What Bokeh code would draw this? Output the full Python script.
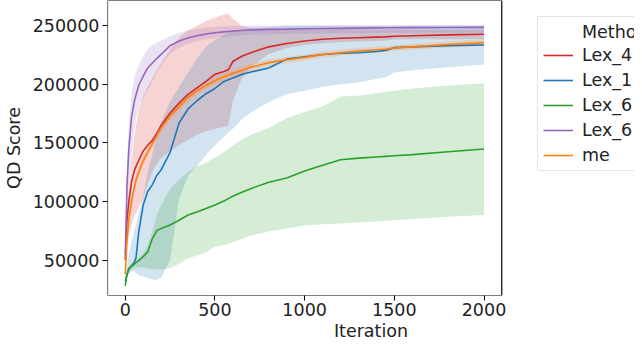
from bokeh.plotting import figure
from bokeh.models import Range1d, FixedTicker, Legend, LegendItem, BoxAnnotation
from bokeh.embed import file_html
from bokeh.resources import INLINE

# ---- data ----
iteration = [0, 10, 20, 35, 50, 60, 75, 100, 125, 150, 175, 200, 250, 300, 350, 400, 450, 500,
             550, 575, 600, 650, 700, 800, 900, 1000, 1100, 1200, 1300, 1400, 1450, 1500, 1600, 1800, 2000]

lex4_mean = [50000, 85000, 100000, 117000, 126000, 130000, 135000, 143000, 148000, 152000, 158000, 165000,
             175500, 184000, 191500, 197000, 202500, 208500, 211000, 212500, 219500, 224000, 227000, 232000,
             234800, 237000, 238500, 239300, 239800, 240300, 240500, 241000, 241500, 242200, 242800]
lex4_lo = [45000, 60000, 70000, 80000, 87000, 90000, 95000, 103000, 115000, 125000, 132000, 137000,
           143000, 148000, 153000, 157000, 160000, 162000, 163500, 165000, 186000, 205000, 215000, 226000,
           231000, 233500, 235000, 236000, 236500, 237000, 237500, 238000, 238500, 238500, 238500]
lex4_hi = [55000, 85000, 105000, 135000, 155000, 165000, 178000, 190000, 198000, 205000, 212000, 218000,
           230000, 240000, 246000, 250000, 254000, 257000, 259500, 260500, 256000, 250000, 248000, 247000,
           247000, 247000, 247000, 247000, 246800, 246800, 246700, 246700, 246600, 246500, 246500]

lex1_mean = [32000, 38000, 42000, 45000, 48000, 52000, 74000, 97000, 108500, 114000, 122000, 127000,
             142000, 167000, 179000, 186000, 192000, 196500, 202500, 204000, 205500, 208500, 210500, 214000,
             221500, 223500, 225500, 226500, 227000, 228000, 229000, 231300, 232000, 233000, 233600]
lex1_lo = [31000, 35000, 38000, 40000, 41000, 39000, 37000, 36000, 35000, 33500, 33000, 35000,
           50000, 102000, 122000, 130000, 140000, 148000, 155000, 159000, 162000, 170000, 176000, 185000,
           191500, 194500, 198000, 200000, 201500, 204500, 206000, 210000, 212000, 214500, 217000]
lex1_hi = [34000, 45000, 55000, 65000, 75000, 80000, 90000, 105000, 125000, 140000, 155000, 168000,
           185000, 198000, 210000, 222000, 232000, 238000, 242000, 244000, 245000, 247000, 248000, 249000,
           250000, 250000, 250000, 250000, 250000, 250000, 250000, 250000, 250000, 250000, 250000]

lex6a_mean = [28000, 38000, 43000, 45000, 46500, 48000, 49500, 53000, 57000, 68000, 75000, 77000,
              80000, 84000, 88500, 91000, 94000, 97000, 100500, 102500, 104500, 108000, 111000, 116500,
              120000, 126000, 131000, 135700, 137000, 138000, 138500, 139000, 140000, 142500, 144800]
lex6a_lo = [27000, 36000, 40000, 42000, 43500, 44000, 44000, 43500, 43000, 42500, 42000, 42000,
            43000, 47000, 51500, 54000, 56500, 61500, 63000, 64000, 65500, 68000, 71000, 74500,
            77000, 79500, 80500, 81200, 82000, 83000, 83500, 84000, 85000, 87000, 88600]
lex6a_hi = [30000, 40000, 44000, 47000, 49000, 50000, 52000, 56000, 62000, 74000, 88000, 97000,
            111000, 118500, 125000, 130000, 133000, 137500, 142000, 145000, 148000, 153000, 157000, 163000,
            171000, 176500, 181000, 189500, 190500, 192500, 193500, 194500, 196500, 199000, 201000]

lex6b_mean = [55000, 115000, 145000, 172000, 185000, 191000, 199000, 207000, 214000, 218000, 222000, 225500,
              233000, 237000, 239500, 241500, 243000, 244000, 244800, 245100, 245400, 246000, 246400, 246900,
              247100, 247400, 247600, 247800, 248000, 248200, 248300, 248300, 248400, 248500, 248600]
lex6b_lo = [50000, 80000, 105000, 140000, 160000, 170000, 180000, 188000, 195000, 202000, 210000, 216000,
            226000, 231500, 234500, 237000, 238500, 239500, 240500, 241000, 241300, 241800, 242300, 242800,
            243000, 243200, 243400, 243600, 243700, 243800, 243900, 244000, 244000, 244100, 244200]
lex6b_hi = [60000, 135000, 165000, 192000, 205000, 210000, 216000, 224000, 230000, 233500, 235500, 237500,
            241000, 244000, 246000, 247500, 248500, 249200, 249600, 249800, 250000, 250100, 250200, 250300,
            250300, 250400, 250400, 250500, 250500, 250500, 250500, 250600, 250600, 250600, 250600]

me_mean = [38000, 68000, 85000, 100000, 112000, 118000, 125000, 135000, 142000, 149000, 156000, 163000,
           173000, 181000, 189000, 194500, 199000, 203000, 206500, 208000, 209500, 212000, 214500, 218500,
           221000, 223000, 225500, 227000, 228500, 229500, 230000, 231000, 232000, 234000, 235600]
me_lo = [36000, 64000, 81000, 96500, 108500, 114500, 121500, 131500, 138500, 145500, 152500, 159500,
         169500, 177500, 185500, 191500, 196000, 200000, 203500, 205000, 206500, 209000, 211500, 215500,
         218500, 220500, 223000, 224500, 226000, 227000, 227500, 228500, 229500, 231500, 233000]
me_hi = [40000, 72000, 89000, 103500, 115500, 121500, 128500, 138500, 145500, 152500, 159500, 166500,
         176500, 184500, 192500, 197500, 202000, 206000, 209500, 211000, 212500, 215000, 217500, 221500,
         223500, 225500, 228000, 229500, 231000, 232000, 232500, 233500, 234500, 236500, 238200]

method_names = ["Lex_4", "Lex_1", "Lex_6", "Lex_6", "me"]
method_colors = ["#d62728", "#1f77b4", "#2ca02c", "#9467bd", "#ff7f0e"]
legend_title = "Methods"
x_ticks = [0, 500, 1000, 1500, 2000]
y_ticks = [50000, 100000, 150000, 200000, 250000]

series = [
    (lex4_mean, lex4_lo, lex4_hi),
    (lex1_mean, lex1_lo, lex1_hi),
    (lex6a_mean, lex6a_lo, lex6a_hi),
    (lex6b_mean, lex6b_lo, lex6b_hi),
    (me_mean, me_lo, me_hi),
]

FONT = "DejaVu Sans"
FS = "17.5px"

# axes box limits (data units); the frame itself extends to the window edge so the
# legend on the right can be drawn (and cut by the window like the reference)
X_LO, X_HI = -99, 2099
Y_LO, Y_HI = 19800, 271550
FRAME_W = 536      # frame width in px (from axes left to window edge)
AXES_PX = 401      # axes box width in px
x_end = X_LO + (X_HI - X_LO) * FRAME_W / AXES_PX

p = figure(width=634, height=343, output_backend="svg", toolbar_location=None,
           x_range=Range1d(X_LO, x_end), y_range=Range1d(Y_LO, Y_HI),
           min_border_left=98, min_border_right=0, min_border_top=0, min_border_bottom=36)

p.xgrid.visible = False
p.ygrid.visible = False
p.outline_line_color = None
p.background_fill_color = "white"
p.border_fill_color = "white"

for ax in (p.xaxis[0], p.yaxis[0]):
    ax.major_label_text_font = FONT
    ax.major_label_text_font_size = FS
    ax.major_label_text_color = "#222222"
    ax.axis_label_text_font = FONT
    ax.axis_label_text_font_size = FS
    ax.axis_label_text_font_style = "normal"
    ax.axis_label_text_color = "#222222"
    ax.axis_line_color = None
    ax.major_tick_out = 5
    ax.major_tick_in = 0
    ax.minor_tick_out = 0
    ax.minor_tick_in = 0
    ax.major_tick_line_color = "black"

p.xaxis[0].major_label_text_line_height = 0.8
p.xaxis[0].axis_label_text_line_height = 0.8
p.xaxis[0].ticker = FixedTicker(ticks=x_ticks)
p.yaxis[0].ticker = FixedTicker(ticks=y_ticks)
p.xaxis[0].axis_label = "Iteration"
p.yaxis[0].axis_label = "QD Score"
p.xaxis[0].major_label_standoff = 2
p.yaxis[0].major_label_standoff = 3
p.xaxis[0].axis_label_standoff = 2
p.yaxis[0].axis_label_standoff = 6
p.yaxis[0].formatter.use_scientific = False

items = []
for (mean, lo, hi), name, col in zip(series, method_names, method_colors):
    p.varea(x=iteration, y1=lo, y2=hi, fill_color=col, fill_alpha=0.2)
for (mean, lo, hi), name, col in zip(series, method_names, method_colors):
    r = p.line(x=iteration, y=mean, line_color=col, line_width=1.6)
    items.append(LegendItem(label=name, renderers=[r]))

# axes box
p.add_layout(BoxAnnotation(left=X_LO, right=X_HI, bottom=Y_LO, top=Y_HI,
                           fill_alpha=0, line_color="black", line_width=1.2, line_alpha=1))

legend = Legend(items=items, location=(430, 124), title="\u00a0" * 7 + legend_title,
                label_text_font=FONT, label_text_font_size=FS, label_text_color="#222222",
                title_text_font=FONT, title_text_font_size=FS, title_text_font_style="normal",
                title_text_color="#222222",
                glyph_width=30, glyph_height=20, label_height=20, label_width=100,
                label_standoff=9, spacing=5, padding=5, margin=0, title_standoff=3,
                border_line_color="#cccccc", border_line_width=1,
                background_fill_color="white", background_fill_alpha=0.8)
p.add_layout(legend, "center")

open("out.html", "w").write(file_html(p, INLINE))
